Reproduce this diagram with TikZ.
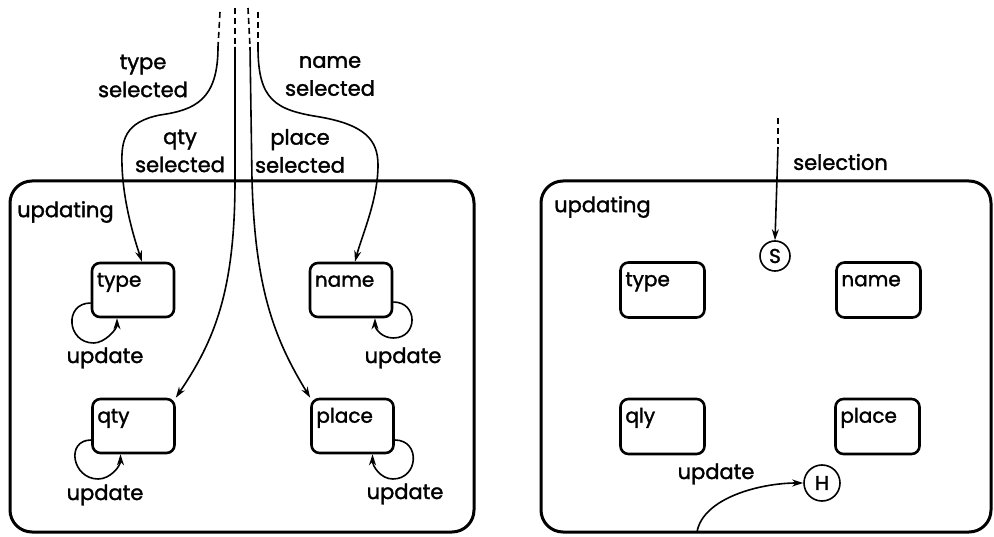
\documentclass[tikz,border=0pt]{standalone}
\usepackage{fontspec}
\setmainfont{Poppins}[FakeBold=1.6]
\usetikzlibrary{arrows.meta}
\begin{document}
\begin{tikzpicture}[x=1pt,y=-1pt,
  big/.style={draw,line width=3pt,rounded corners=22pt,inner sep=0pt},
  st/.style={draw,line width=2.6pt,rounded corners=8pt,minimum width=82pt,minimum height=54pt,inner sep=0pt},
  nm/.style={label={[anchor=base west,inner sep=0pt,xshift=6pt,yshift=-25pt,font=\fontsize{20}{22}\selectfont]north west:#1}},
  tr/.style={line width=1.6pt,-{Stealth[length=11pt,width=7pt]}},
  dsh/.style={line width=1.6pt,dash pattern=on 6pt off 4pt},
  lbl/.style={font=\fontsize{21}{28}\selectfont,inner sep=0pt,align=center},
  circ/.style={draw,circle,line width=1.6pt,inner sep=0pt,font=\fontsize{20}{20}\selectfont}
]
\useasboundingbox (0,0) rectangle (994,537);
% ---------- left diagram ----------
\node[big,minimum width=464pt,minimum height=351pt] (L) at (242,356.5) {};
\node[lbl,anchor=west] (Lu) at (17,212) {updating};
\node[st,nm=type] (type) at (133,290) {};
\node[st,nm=name] (name) at (351,290) {};
\node[st,nm=qty] (qty) at (133.5,426) {};
\node[st,nm=place] (place) at (352.5,426) {};
% self loops
\draw[tr] ([yshift=-13pt]type.west) .. controls +(-27,0) and +(-27,0) .. ++(3,40) .. controls +(11,0) and +(0,11) .. ([xshift=-16pt]type.south);
\draw[tr] ([yshift=-12pt]name.east) .. controls +(25,0) and +(25,0) .. ++(0,36) .. controls +(-11,0) and +(0,11) .. ([xshift=24pt]name.south);
\draw[tr] ([yshift=-14pt]qty.west) .. controls +(-26,0) and +(-26,0) .. ++(7,39) .. controls +(12,0) and +(0,12) .. ([xshift=-13pt]qty.south);
\draw[tr] ([yshift=-14pt]place.east) .. controls +(26,0) and +(26,0) .. ++(-2,39) .. controls +(-12,0) and +(0,12) .. ([xshift=20pt]place.south);
\node[lbl] (u1) at (105,358) {update};
\node[lbl] (u2) at (403,358) {update};
\node[lbl] (u3) at (105,495) {update};
\node[lbl] (u4) at (405,494) {update};
% entering transitions
\coordinate (ta) at (220,12); \coordinate (tb) at (218,47);
\coordinate (qa) at (235,8);  \coordinate (qb) at (235,47);
\coordinate (pa) at (248,8);  \coordinate (pb) at (250,47);
\coordinate (na) at (258,12); \coordinate (nb) at (258,47);
\draw[dsh] (ta) -- (tb);
\draw[dsh] (qa) -- (qb);
\draw[dsh] (pa) -- (pb);
\draw[dsh] (na) -- (nb);
\draw[tr] (tb) .. controls (218,100) and (195,110) .. (160,115) .. controls (125,122) and (121,140) .. (122,165) .. controls (123,200) and (133,235) .. ([xshift=9pt]type.north);
\draw[tr] (nb) .. controls (258,100) and (275,110) .. (320,117) .. controls (365,125) and (378,140) .. (378,165) .. controls (378,200) and (362,235) .. ([xshift=4pt]name.north);
\draw[tr] (qb) -- (235,180) .. controls (235,290) and (215,340) .. (qty.north east);
\draw[tr] (pb) -- (252,180) .. controls (255,290) and (275,340) .. (place.north west);
\node[lbl] (l1) at (143,76) {type\\selected};
\node[lbl] (l2) at (330,76) {name\\selected};
\node[lbl] (l3) at (180,151) {qty\\selected};
\node[lbl] (l4) at (300,151) {place\\selected};
% ---------- right diagram ----------
\node[big,minimum width=450pt,minimum height=351pt] (R) at (766,356.5) {};
\node[lbl,anchor=west] (Ru) at (554,207) {updating};
\node[st,minimum width=84pt,minimum height=55pt,nm=type] (rtype) at (662.5,290) {};
\node[st,minimum width=84pt,minimum height=55pt,nm=name] (rname) at (878.5,290) {};
\node[st,minimum width=84pt,minimum height=55pt,nm=qly] (rqty) at (662.5,426.5) {};
\node[st,minimum width=84pt,minimum height=55pt,nm=place] (rplace) at (877.5,426.5) {};
\coordinate (sa) at (778,118); \coordinate (sb) at (778,147);
\draw[dsh] (sa) -- (sb);
\node[circ,minimum size=30pt] (S) at (775,256) {S};
\draw[tr] (sb) -- (S.north);
\node[lbl,anchor=west] (sel) at (793,162) {selection};
\node[circ,minimum size=36pt] (H) at (822,483) {H};
\coordinate (ua) at (697,532);
\draw[tr] (ua) .. controls (703,498) and (760,483) .. (H.west);
\node[lbl] (u5) at (716,474) {update};
\end{tikzpicture}
\end{document}
